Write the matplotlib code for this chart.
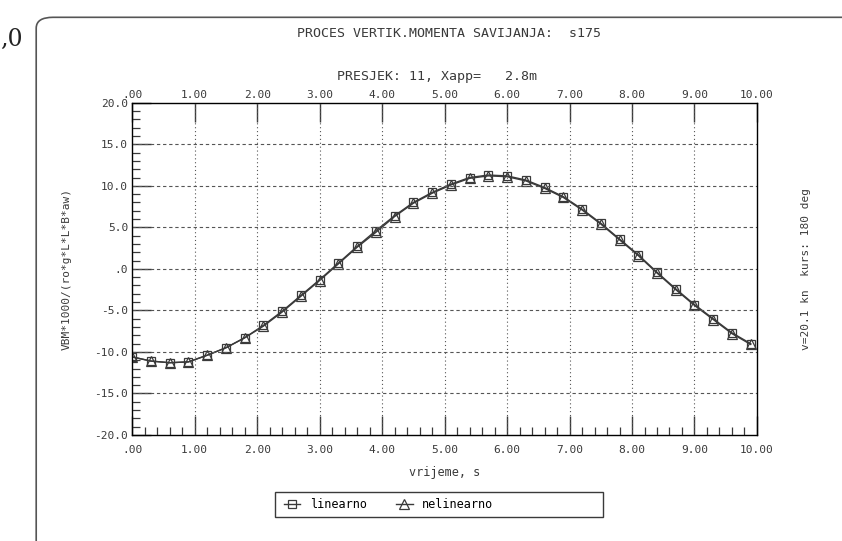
import matplotlib
matplotlib.use("Agg")
import matplotlib.pyplot as plt
import numpy as np
from matplotlib.ticker import MultipleLocator, FixedLocator, FixedFormatter
from matplotlib.patches import FancyBboxPatch, Rectangle

# vrijeme, s  (korak 0.3 s)
t = [0.0, 0.3, 0.6, 0.9, 1.2, 1.5, 1.8, 2.1, 2.4, 2.7, 3.0, 3.3,
     3.6, 3.9, 4.2, 4.5, 4.8, 5.1, 5.4, 5.7, 6.0, 6.3, 6.6, 6.9,
     7.2, 7.5, 7.8, 8.1, 8.4, 8.7, 9.0, 9.3, 9.6, 9.9]

linearno = [-10.6, -11.1, -11.3, -11.2, -10.4, -9.5, -8.3, -6.8, -5.1, -3.2, -1.3, 0.7,
            2.7, 4.6, 6.4, 8.0, 9.2, 10.2, 11.0, 11.3, 11.2, 10.7, 9.8, 8.7,
            7.2, 5.5, 3.6, 1.7, -0.4, -2.4, -4.3, -6.0, -7.7, -9.0]
nelinearno = [-10.6, -11.1, -11.3, -11.2, -10.4, -9.5, -8.3, -6.9, -5.2, -3.3, -1.4, 0.6,
              2.6, 4.4, 6.3, 7.9, 9.1, 10.1, 10.9, 11.2, 11.1, 10.6, 9.7, 8.6,
              7.1, 5.4, 3.5, 1.6, -0.5, -2.5, -4.4, -6.1, -7.8, -9.1]

xticks = [0, 1, 2, 3, 4, 5, 6, 7, 8, 9, 10]
xticklabels = [".00", "1.00", "2.00", "3.00", "4.00", "5.00", "6.00", "7.00", "8.00", "9.00", "10.00"]
yticks = [-20, -15, -10, -5, 0, 5, 10, 15, 20]
yticklabels = ["-20.0", "-15.0", "-10.0", "-5.0", ".0", "5.0", "10.0", "15.0", "20.0"]

FONT = "DejaVu Sans Mono"
INK = "#3a3a3a"


def main():
    plt.rcParams['font.family'] = FONT
    fig = plt.figure(figsize=(8.42, 5.41), dpi=100)
    fig.patch.set_facecolor("white")

    # okvir skena
    frame = FancyBboxPatch((0.043, -0.05), 1.0, 1.018, boxstyle="round,pad=0,rounding_size=0.02",
                           transform=fig.transFigure, fill=False, ec="#555555", lw=1.2)
    fig.patches.append(frame)
    fig.text(0.0, 0.915, ",0", fontsize=17, family="DejaVu Serif", color="#222222")

    ax = fig.add_axes([0.157, 0.196, 0.742, 0.614])
    ax.set_xlim(0, 10)
    ax.set_ylim(-20, 20)

    ax.plot(t, linearno, color=INK, lw=1.0, marker="s", ms=6, mfc="none", mec=INK, mew=0.9)
    ax.plot(t, nelinearno, color=INK, lw=1.0, marker="^", ms=7, mfc="none", mec=INK, mew=0.9)

    # mreza
    for x in xticks[1:-1]:
        ax.axvline(x, color="#555555", lw=0.8, ls=(0, (1, 2.5)))
    for y in yticks[1:-1]:
        ax.axhline(y, color="#555555", lw=0.8, ls=(0, (3, 2.5)))

    for s in ax.spines.values():
        s.set_color(INK)
        s.set_linewidth(1.0)

    ax.xaxis.set_major_locator(FixedLocator(xticks))
    ax.xaxis.set_major_formatter(FixedFormatter(xticklabels))
    ax.xaxis.set_minor_locator(MultipleLocator(0.2))
    ax.yaxis.set_major_locator(FixedLocator(yticks))
    ax.yaxis.set_major_formatter(FixedFormatter(yticklabels))
    ax.yaxis.set_minor_locator(MultipleLocator(1))
    ax.tick_params(which="major", direction="in", length=14, width=1.0, color=INK,
                   labelsize=8, labelcolor=INK, top=True, labeltop=False, right=True, labelright=True)
    ax.tick_params(which="minor", direction="in", length=6, width=0.9, color=INK,
                   top=False, right=False)
    ax.tick_params(axis="x", which="major", pad=7)
    ax.tick_params(axis="y", which="major", pad=3)

    # gornja skala
    sec = ax.secondary_xaxis("top")
    sec.xaxis.set_major_locator(FixedLocator(xticks))
    sec.xaxis.set_major_formatter(FixedFormatter(xticklabels))
    sec.tick_params(direction="in", length=0, labelsize=8, labelcolor=INK, pad=2)
    sec.spines["top"].set_visible(False)

    ax.set_xlabel("vrijeme, s", fontsize=8.5, color=INK, labelpad=8)
    ax.set_ylabel("VBM*1000/(ro*g*L*L*B*aw)", fontsize=8, color=INK, labelpad=16)
    ax2 = ax.twinx()
    ax2.set_ylim(-20, 20)
    ax2.set_yticks([])
    ax2.set_ylabel("v=20.1 kn  kurs: 180 deg", fontsize=8, color=INK, labelpad=32)

    fig.text(0.533, 0.939, "PROCES VERTIK.MOMENTA SAVIJANJA:  s175", ha="center", va="center",
             fontsize=9.5, color=INK)
    fig.text(0.519, 0.858, "PRESJEK: 11, Xapp=   2.8m", ha="center", va="center",
             fontsize=9.5, color=INK)

    # legenda
    box = Rectangle((275 / 842, 24 / 541), 328 / 842, 25 / 541, transform=fig.transFigure,
                    fill=False, ec=INK, lw=1.0)
    fig.patches.append(box)
    fig.legend(["linearno", "nelinearno"], loc="center left",
               bbox_to_anchor=(279 / 842, 36.5 / 541), ncol=2, fontsize=8.5, frameon=False,
               handlelength=1.4, handletextpad=0.8, columnspacing=2.5, borderaxespad=0)

    plt.savefig("out.png", dpi=100)


if __name__ == '__main__':
    main()
